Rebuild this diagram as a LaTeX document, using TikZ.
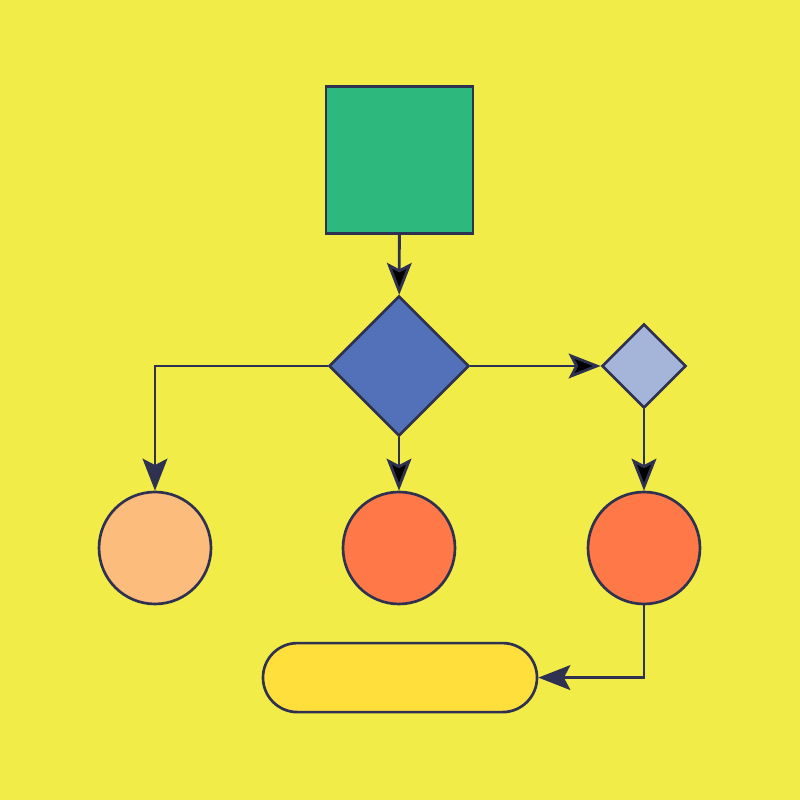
\documentclass[tikz,border=0pt]{standalone}
\usepackage{tikz}
\usetikzlibrary{arrows.meta,positioning,calc,shapes.geometric}
\definecolor{bgyellow}{HTML}{F2EC48}
\definecolor{linenavy}{HTML}{2E3250}
\definecolor{boxgreen}{HTML}{2DB87D}
\definecolor{bigblue}{HTML}{5271B8}
\definecolor{paleblue}{HTML}{A5B5DA}
\definecolor{peach}{HTML}{FCBC7B}
\definecolor{orangered}{HTML}{FF7847}
\definecolor{pillyellow}{HTML}{FFDF3C}

\begin{document}
\begin{tikzpicture}
  [every node/.style={draw=linenavy, line width=1.9pt, inner sep=0pt},
   flow/.style={draw=linenavy, line width=2pt, -{Stealth[length=0.8cm, width=0.62cm, inset=0.16cm]}},
   dec/.style={diamond, aspect=1},
   ball/.style={circle, minimum size=2.8cm}]
  \fill [bgyellow] (0,0) rectangle (20,20);
  \useasboundingbox (0,0) rectangle (20,20);

  \node [fill=boxgreen, minimum size=3.675cm] (S) at (9.99,16) {};
  \node [dec, fill=bigblue, minimum size=3.5cm] (D) at (9.975,10.85) {};
  \node [dec, fill=paleblue, minimum size=2.1cm] (DD) at (16.1,10.85) {};

  \node [ball, fill=peach] (L) at (3.875,6.3) {};
  \node [ball, fill=orangered] (M) at (9.975,6.3) {};
  \node [ball, fill=orangered] (R) at (16.1,6.3) {};

  \node [rounded corners=0.86cm, fill=pillyellow, minimum width=6.85cm, minimum height=1.725cm] (P) at (10,3.06) {};

  \path [flow]
  (S) edge (D)
  (D) edge (M)
  (D) edge (DD)
  (DD) edge (R);
  \draw [flow] (D.west) -| (L.north);
  \draw [flow] (R.south) |- (P.east);
\end{tikzpicture}
\end{document}
